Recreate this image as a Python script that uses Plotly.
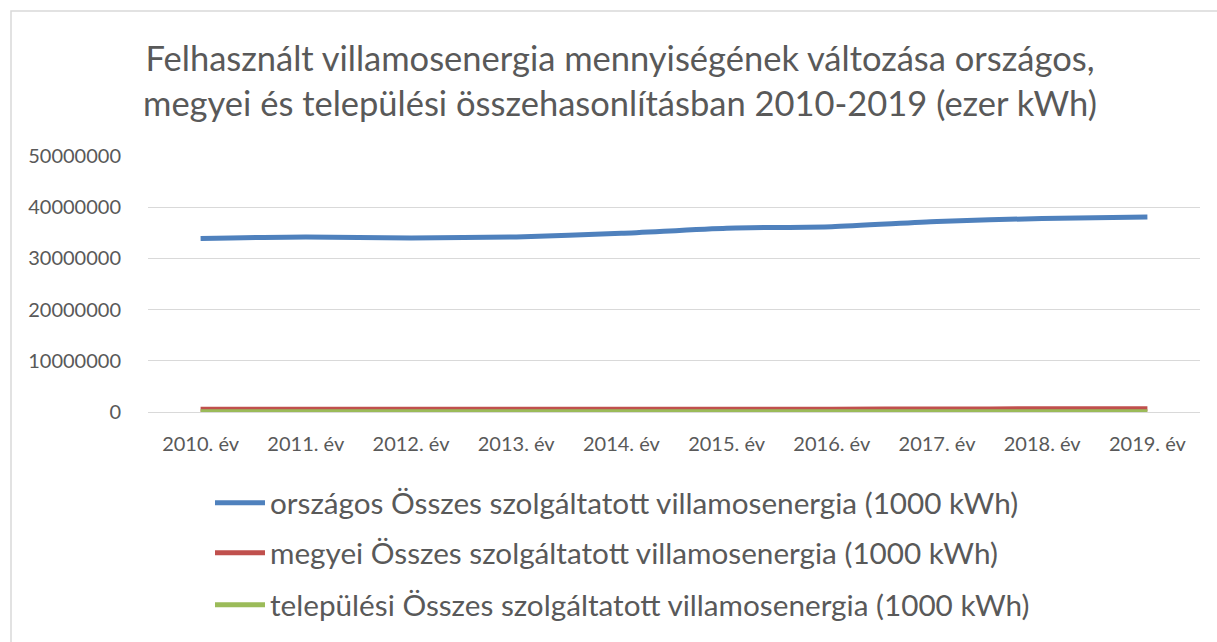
import plotly.graph_objects as go

years = ["2010. év", "2011. év", "2012. év", "2013. év", "2014. év",
         "2015. év", "2016. év", "2017. év", "2018. év", "2019. év"]
orszagos = [33900000, 34200000, 34000000, 34200000, 34900000,
            35900000, 36200000, 37200000, 37800000, 38100000]
megyei = [520000, 520000, 525000, 530000, 540000,
          550000, 560000, 580000, 640000, 650000]
telepulesi = [30000, 30000, 30000, 30000, 31000,
              32000, 32000, 33000, 34000, 34000]
names = ["országos Összes szolgáltatott villamosenergia (1000 kWh)",
         "megyei Összes szolgáltatott villamosenergia (1000 kWh)",
         "települési Összes szolgáltatott villamosenergia (1000 kWh)"]
colors = ["#4F81BD", "#C0504D", "#9BBB59"]
series = [orszagos, megyei, telepulesi]

FONT = "Lato"
GREY = "#595959"

fig = go.Figure()
legend_ids = ["legend2", "legend3", "legend4"]
for s, n, c, lg in zip(series, names, colors, legend_ids):
    fig.add_trace(go.Scatter(x=years, y=s, name=n, mode="lines",
                             line=dict(color=c, width=5, shape="spline", smoothing=0.6),
                             legend=lg))

H = 256
def py(pix):
    return (412 - pix) / H

leg_common = dict(font=dict(family=FONT, size=29.7, color=GREY), bgcolor="rgba(0,0,0,0)",
                  xanchor="left", yanchor="middle", x=(210 - 148) / 1052, itemwidth=50)
fig.update_layout(
    width=1217, height=642,
    margin=dict(l=148, r=17, t=156, b=230, autoexpand=False),
    paper_bgcolor="white", plot_bgcolor="white",
    showlegend=True,
    title=dict(text="Felhasznált villamosenergia mennyiségének változása országos,<br>megyei és települési összehasonlításban 2010-2019 (ezer kWh)",
               font=dict(family=FONT, size=34.5, color=GREY),
               x=(620) / 1217, xanchor="center", y=1 - 71 / 642, yanchor="middle"),
    xaxis=dict(type="category", range=[-0.5, 9.5], showgrid=False, showline=False,
               ticks="", ticklabelstandoff=18, tickfont=dict(family=FONT, size=20, color=GREY)),
    yaxis=dict(range=[0, 50000000], dtick=10000000, tickformat="d",
               showgrid=True, gridcolor="#D9D9D9", gridwidth=1, zeroline=True,
               zerolinecolor="#D9D9D9", zerolinewidth=1, showline=False, ticks="",
               ticklabelstandoff=26,
               tickfont=dict(family=FONT, size=20, color=GREY)),
    legend2=dict(**leg_common, y=py(503)),
    legend3=dict(**leg_common, y=py(553)),
    legend4=dict(**leg_common, y=py(605)),
    shapes=[dict(type="rect", xref="paper", yref="paper",
                 x0=(11 - 148) / 1052, x1=(1230 - 148) / 1052,
                 y0=py(660), y1=py(11),
                 line=dict(color="#D9D9D9", width=1.5), fillcolor="rgba(0,0,0,0)", layer="below")],
)

fig.write_html("out.html", post_script="document.body.style.margin='0';",
               config={"displayModeBar": False})
